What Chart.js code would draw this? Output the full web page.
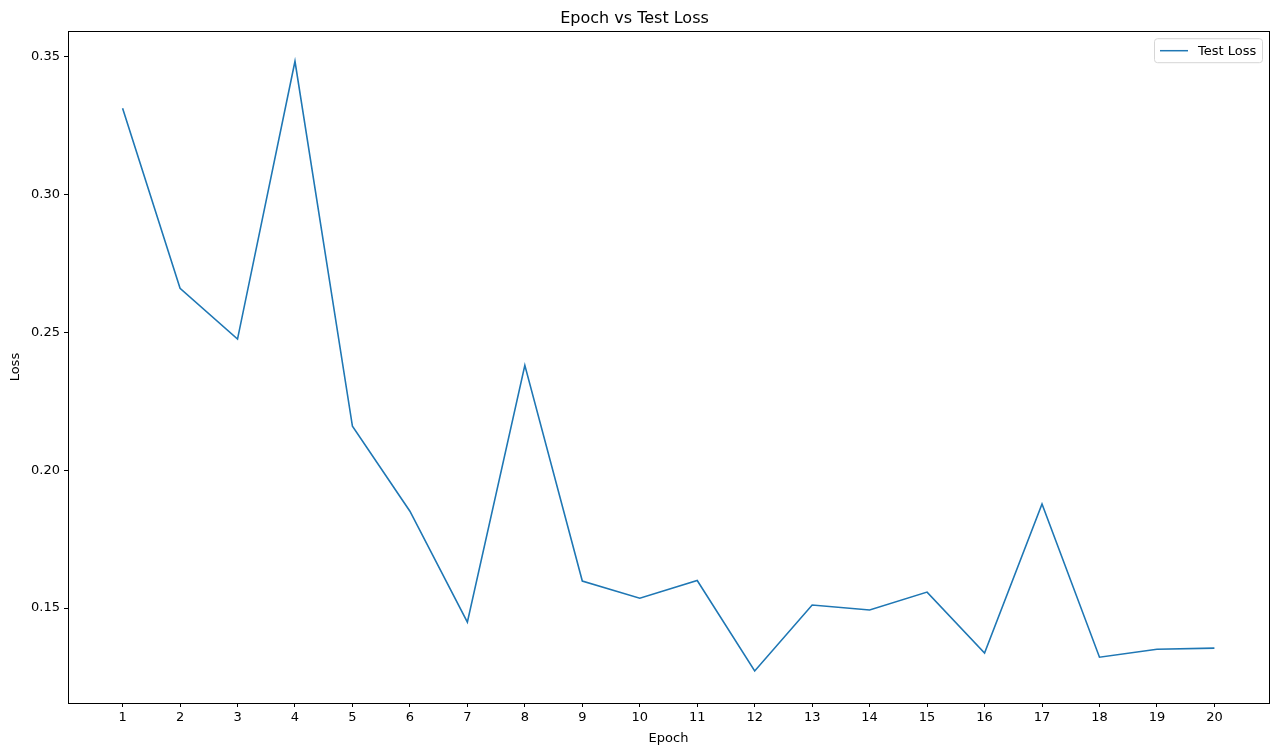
<!DOCTYPE html>
<html>
<head>
<meta charset="utf-8">
<title>Epoch vs Test Loss</title>
<script src="https://cdn.jsdelivr.net/npm/chart.js@4.4.1/dist/chart.umd.min.js"></script>
<style>
  html, body { margin: 0; padding: 0; background: #ffffff; }
  #wrap { width: 1279px; height: 754px; position: relative; }
</style>
</head>
<body>
<div id="wrap"><canvas id="lossChart" width="1279" height="754"></canvas></div>
<script>
// ===============================
// Data
// ===============================
const epochs = [1, 2, 3, 4, 5, 6, 7, 8, 9, 10, 11, 12, 13, 14, 15, 16, 17, 18, 19, 20];
const testLoss = [
  0.3312, 0.2659, 0.2475, 0.3482, 0.2159, 0.1851, 0.1449, 0.2380, 0.1598, 0.1536,
  0.1600, 0.1272, 0.1511, 0.1493, 0.1558, 0.1337, 0.1877, 0.1322, 0.1351, 0.1355,
];
const yTicks = [0.15, 0.2, 0.25, 0.3, 0.35];

const FONT = "'DejaVu Sans', sans-serif";
const LINE_COLOR = "#1f77b4";

// ===============================
// Plugins: frame + legend
// ===============================
const framePlugin = {
  id: "frame",
  afterDraw(chart) {
    const { ctx, chartArea: a } = chart;
    ctx.save();
    ctx.strokeStyle = "#000";
    ctx.lineWidth = 1;
    ctx.strokeRect(Math.round(a.left) + 0.5, Math.round(a.top) + 0.5,
      Math.round(a.right - a.left), Math.round(a.bottom - a.top));
    ctx.restore();
  },
};

const legendPlugin = {
  id: "innerLegend",
  afterDraw(chart) {
    const { ctx, chartArea: a } = chart;
    const w = 108, h = 24;
    const x = a.right - 7 - w, y = a.top + 7;
    ctx.save();
    ctx.fillStyle = "rgba(255,255,255,0.8)";
    ctx.strokeStyle = "#d6d6d6";
    ctx.lineWidth = 1;
    ctx.beginPath();
    ctx.roundRect(x + 0.5, y + 0.5, w, h, 3);
    ctx.fill();
    ctx.stroke();
    ctx.strokeStyle = LINE_COLOR;
    ctx.lineWidth = 1.5;
    ctx.beginPath();
    ctx.moveTo(x + 6, y + h / 2 + 0.5);
    ctx.lineTo(x + 34, y + h / 2 + 0.5);
    ctx.stroke();
    ctx.fillStyle = "#000";
    ctx.font = `13px ${FONT}`;
    ctx.textBaseline = "middle";
    ctx.fillText(chart.data.datasets[0].label, x + 44, y + h / 2 + 1);
    ctx.restore();
  },
};

// ===============================
// Chart
// ===============================
const ctx = document.getElementById("lossChart").getContext("2d");

new Chart(ctx, {
  type: "line",
  data: {
    datasets: [
      {
        label: "Test Loss",
        data: epochs.map((e, i) => ({ x: e, y: testLoss[i] })),
        borderColor: LINE_COLOR,
        borderWidth: 1.6,
        pointRadius: 0,
        tension: 0,
        fill: false,
      },
    ],
  },
  options: {
    responsive: false,
    animation: false,
    layout: { padding: { top: 0, right: 10, left: 0, bottom: 0 } },
    plugins: {
      legend: { display: false },
      tooltip: { enabled: false },
      title: {
        display: true,
        text: "Epoch vs Test Loss",
        color: "#000",
        font: { family: FONT, size: 16, weight: "normal" },
        padding: { top: 9, bottom: 3 },
      },
    },
    scales: {
      x: {
        type: "linear",
        min: 0.05,
        max: 20.95,
        afterBuildTicks: (scale) => {
          scale.ticks = epochs.map((v) => ({ value: v }));
        },
        afterFit: (scale) => { scale.height = 51; },
        border: { display: false },
        grid: { drawOnChartArea: false, drawTicks: true, tickLength: 4, color: "#000" },
        ticks: {
          color: "#000",
          font: { family: FONT, size: 13 },
          padding: 3,
          maxRotation: 0,
          autoSkip: false,
          callback: (v) => String(v),
        },
        title: {
          display: true,
          text: "Epoch",
          color: "#000",
          font: { family: FONT, size: 13 },
          padding: { top: 4, bottom: 8 },
        },
      },
      y: {
        min: 0.1156,
        max: 0.3591,
        afterBuildTicks: (scale) => {
          scale.ticks = yTicks.map((v) => ({ value: v }));
        },
        afterFit: (scale) => { scale.width = 68; },
        border: { display: false },
        grid: { drawOnChartArea: false, drawTicks: true, tickLength: 4, color: "#000" },
        ticks: {
          color: "#000",
          font: { family: FONT, size: 13 },
          padding: 4,
          callback: (v) => v.toFixed(2),
        },
        title: {
          display: true,
          text: "Loss",
          color: "#000",
          font: { family: FONT, size: 13 },
          padding: { top: 8, bottom: 2 },
        },
      },
    },
  },
  plugins: [framePlugin, legendPlugin],
});
</script>
</body>
</html>
